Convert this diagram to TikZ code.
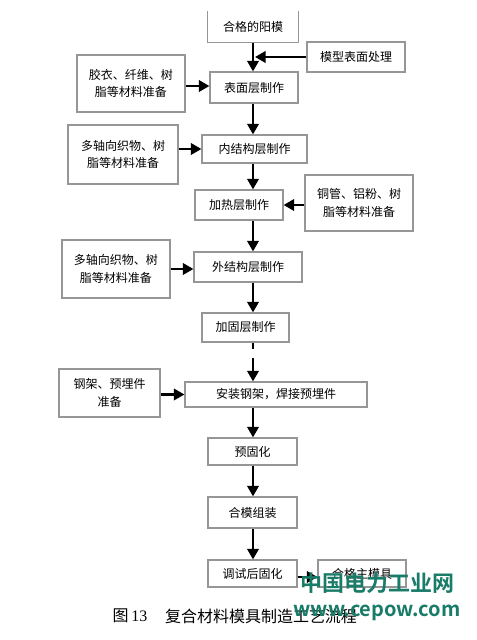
\documentclass[tikz,border=0pt]{standalone}
\usepackage{fontspec}
\setmainfont{Noto Sans CJK SC}
\newfontfamily\cjk{Noto Sans CJK SC}
\newfontfamily\cjkb{Noto Sans CJK SC Bold}
\newfontfamily\serifnum{Liberation Serif}
\usetikzlibrary{arrows.meta}
\definecolor{boxgray}{RGB}{150,150,150}
\definecolor{wmteal}{RGB}{24,124,104}
\begin{document}
\begin{tikzpicture}[x=0.75pt,y=-0.75pt,
  box/.style={draw=boxgray,line width=0.8pt,inner sep=0pt,align=center,font=\fontsize{9}{13}\selectfont\cjk},
  arr/.style={line width=2.1pt,-{Triangle[length=8pt,width=8.5pt]}},
  sz/.style 2 args={minimum width=#1*0.75pt,minimum height=#2*0.75pt},
]
\useasboundingbox[fill=white] (0,0) rectangle (477,640);
\coordinate (sp) at (253,0);
% main column
\node[box,draw=none,sz={90}{30}] (b1) at (253,27) {合格的阳模};
\draw[boxgray,line width=0.8pt] (b1.north west) -- (b1.south west) -- (b1.south east) -- (b1.north east);
\node[box,sz={98}{30}] (m1) at (356,57) {模型表面处理};
\node[box,sz={88}{31}] (b2) at (254,87.5) {表面层制作};
\node[box,sz={108}{57}] (l1) at (131,83.5) {胶衣、纤维、树\\脂等材料准备};
\node[box,sz={110}{59}] (l2) at (123,154.5) {多轴向织物、树\\脂等材料准备};
\node[box,sz={105}{28}] (b3) at (254.5,149) {内结构层制作};
\node[box,sz={88}{30}] (b4) at (239,205) {加热层制作};
\node[box,sz={108}{56}] (r2) at (359,203) {铜管、铝粉、树\\脂等材料准备};
\node[box,sz={108}{58}] (l3) at (116,269) {多轴向织物、树\\脂等材料准备};
\node[box,sz={108}{30}] (b5) at (248,267) {外结构层制作};
\node[box,sz={87}{29}] (b6) at (245.5,327.5) {加固层制作};
\node[box,sz={101}{48}] (l4) at (109.5,393) {钢架、预埋件\\准备};
\node[box,sz={182}{25}] (b7) at (276,394.5) {安装钢架，焊接预埋件};
\node[box,sz={89}{27}] (b8) at (252.5,451.5) {预固化};
\node[box,sz={89}{31}] (b9) at (252.5,512.5) {合模组装};
\node[box,sz={89}{27}] (b10) at (252.5,573.5) {调试后固化};
\node[box,sz={88}{27}] (b11) at (362,573.5) {合格主模具};
% spine arrows
\draw[arr] (b1.south -| sp) -- (b2.north -| sp);
\draw[arr] (b2.south -| sp) -- (b3.north -| sp);
\draw[arr] (b3.south -| sp) -- (b4.north -| sp);
\draw[arr] (b4.south -| sp) -- (b5.north -| sp);
\draw[arr] (b5.south -| sp) -- (b6.north -| sp);
\draw[arr,dash pattern=on 4.5pt off 7pt on 200pt] (b6.south -| sp) -- (b7.north -| sp);
\draw[arr] (b7.south -| sp) -- (b8.north -| sp);
\draw[arr] (b8.south -| sp) -- (b9.north -| sp);
\draw[arr] (b9.south -| sp) -- (b10.north -| sp);
% side arrows
\coordinate (spm) at (255,0);
\draw[arr] (m1.west) -- (m1.west -| spm);
\draw[arr] (l1.east |- 0,86) -- (b2.west |- 0,86);
\draw[arr] (b3.west -| l2.east) -- (b3.west);
\draw[arr] (b4.east -| r2.west) -- (b4.east);
\draw[arr] (l3.east) -- (l3.east -| b5.west);
\draw[arr] (b7.west -| l4.east) -- (b7.west);
\draw[arr] (b10.east |- 0,577) -- (b11.west |- 0,577);
% caption
\node[inner sep=0pt,font=\fontsize{12}{14}\selectfont] (capn) at (130,616) {\cjk 图\,\serifnum 13};
\node[inner sep=0pt,font=\fontsize{12}{14}\selectfont\cjk] (cap) at (261,616) {复合材料模具制造工艺流程};
% watermark
\node[inner sep=0pt,text=wmteal,font=\fontsize{16.5}{18}\selectfont\cjkb] (wm1) at (377.5,583) {中国电力工业网};
\node[inner sep=0pt,text=wmteal,font=\fontsize{15}{17}\selectfont\cjkb] (wm2) at (377,613) {www.cepow.com};
\end{tikzpicture}
\end{document}
